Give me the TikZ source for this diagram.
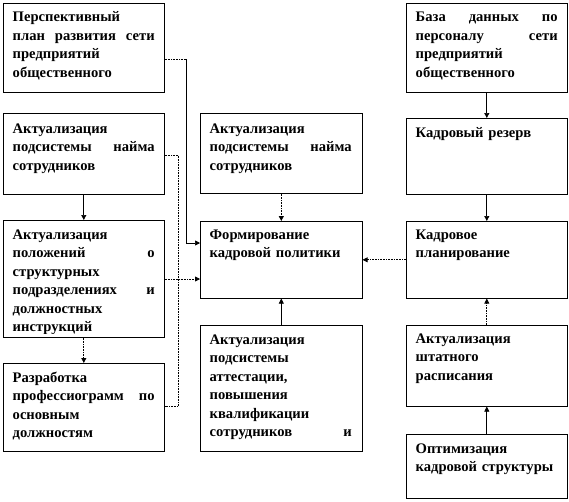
\documentclass[tikz,border=0pt]{standalone}
\usepackage{fontspec}
\setmainfont{Liberation Serif}
\usetikzlibrary{arrows.meta}
\newcommand\jl[1]{\makebox[\hsize][l]{#1}}
\begin{document}
\begin{tikzpicture}[x=1pt,y=-1pt,
  box/.style={draw, line width=0.6pt, inner sep=0pt, anchor=north west},
  txt/.style={anchor=north west, inner sep=0pt, text width=142pt, align=left,
    font=\fontsize{14.6}{18.5}\selectfont\bfseries},
  dotln/.style={line width=0.8pt, dash pattern=on 0.8pt off 0.8pt},
  tip/.style={-{Triangle[length=5pt,width=5pt]}},
  solidln/.style={line width=0.7pt}
]
\useasboundingbox (0,0) rectangle (569,501);
\fill[white] (0,0) rectangle (569,501);
% boxes
\node[box, minimum width=161pt, minimum height=89pt] (A) at (3,3) {};
\node[box, minimum width=161pt, minimum height=81pt] (B) at (3,113) {};
\node[box, minimum width=161pt, minimum height=117pt] (C) at (3,220) {};
\node[box, minimum width=161pt, minimum height=88pt] (D) at (3,363) {};
\node[box, minimum width=162pt, minimum height=80pt] (E) at (200,113) {};
\node[box, minimum width=162pt, minimum height=77pt] (F) at (200,221) {};
\node[box, minimum width=162pt, minimum height=126pt] (G) at (200,325) {};
\node[box, minimum width=161pt, minimum height=89pt] (H) at (406,3) {};
\node[box, minimum width=161pt, minimum height=76pt] (I) at (406,118) {};
\node[box, minimum width=161pt, minimum height=77pt] (J) at (406,221) {};
\node[box, minimum width=161pt, minimum height=81pt] (K) at (406,325) {};
\node[box, minimum width=161pt, minimum height=64pt] (L) at (406,434) {};
% texts
\node[txt] (At) at ([xshift=9.5pt,yshift=-5.5pt]A.north west)
  {\rule{0pt}{13pt}Перспективный\\ \jl{план\hfill развития\hfill сети}\\ предприятий\\ общественного};
\node[txt] (Bt) at ([xshift=9.5pt,yshift=-7pt]B.north west)
  {\rule{0pt}{13pt}Актуализация\\ \jl{подсистемы\hfill найма}\\ сотрудников};
\begin{scope}
\clip (C.north west) rectangle ([yshift=4pt]C.south east);
\node[txt] (Ct) at ([xshift=9.5pt,yshift=-6pt]C.north west)
  {\rule{0pt}{13pt}Актуализация\\ \jl{положений\hfill о}\\ структурных\\ \jl{подразделениях\hfill и}\\ должностных\\ инструкций};
\end{scope}
\node[txt] (Dt) at ([xshift=9.5pt,yshift=-6pt]D.north west)
  {\rule{0pt}{13pt}Разработка\\ \jl{профессиограмм\hfill по}\\ основным\\ должностям};
\node[txt] (Et) at ([xshift=9.5pt,yshift=-7pt]E.north west)
  {\rule{0pt}{13pt}Актуализация\\ \jl{подсистемы\hfill найма}\\ сотрудников};
\node[txt] (Ft) at ([xshift=9.5pt,yshift=-5pt]F.north west)
  {\rule{0pt}{13pt}Формирование\\ кадровой политики};
\node[txt] (Gt) at ([xshift=9.5pt,yshift=-6pt]G.north west)
  {\rule{0pt}{13pt}Актуализация\\ подсистемы\\ аттестации,\\ повышения\\ квалификации\\ \jl{сотрудников\hfill и}};
\node[txt] (Ht) at ([xshift=9.5pt,yshift=-5.5pt]H.north west)
  {\rule{0pt}{13pt}\jl{База\hfill данных\hfill по}\\ \jl{персоналу\hfill сети}\\ предприятий\\ общественного};
\node[txt] (It) at ([xshift=9.5pt,yshift=-6pt]I.north west)
  {\rule{0pt}{13pt}Кадровый резерв};
\node[txt] (Jt) at ([xshift=9.5pt,yshift=-5pt]J.north west)
  {\rule{0pt}{13pt}Кадровое\\ планирование};
\node[txt] (Kt) at ([xshift=9.5pt,yshift=-5pt]K.north west)
  {\rule{0pt}{13pt}Актуализация\\ штатного\\ расписания};
\node[txt] (Lt) at ([xshift=9.5pt,yshift=-6pt]L.north west)
  {\rule{0pt}{13pt}Оптимизация\\ кадровой структуры};
% connectors
\coordinate (p1) at (186,59);
\coordinate (p2) at (186,243);
\draw[dotln] (A.east|-p1) -- (p1);
\draw[solidln,tip] (p1) -- (p2) -- (F.west|-p2);
\coordinate (q1) at (178.5,155);
\coordinate (q2) at (178.5,406);
\coordinate (q3) at (178.5,279);
\draw[dotln] (B.east|-q1) -- (q1) -- (q2) -- (D.east|-q2);
\draw[dotln,tip] (C.east|-q3) -- (F.west|-q3);
\draw[solidln,tip] (B.south) -- (C.north);
\draw[dotln,tip] (C.south) -- (D.north);
\draw[dotln,tip] (E.south) -- (F.north);
\draw[solidln,tip] (G.north) -- (F.south);
\draw[dotln,tip] (J.west) -- (F.east);
\draw[solidln,tip] (H.south) -- (I.north);
\draw[solidln,tip] (I.south) -- (J.north);
\draw[dotln,tip] (K.north) -- (J.south);
\draw[solidln,tip] (L.north) -- (K.south);
\end{tikzpicture}
\end{document}
